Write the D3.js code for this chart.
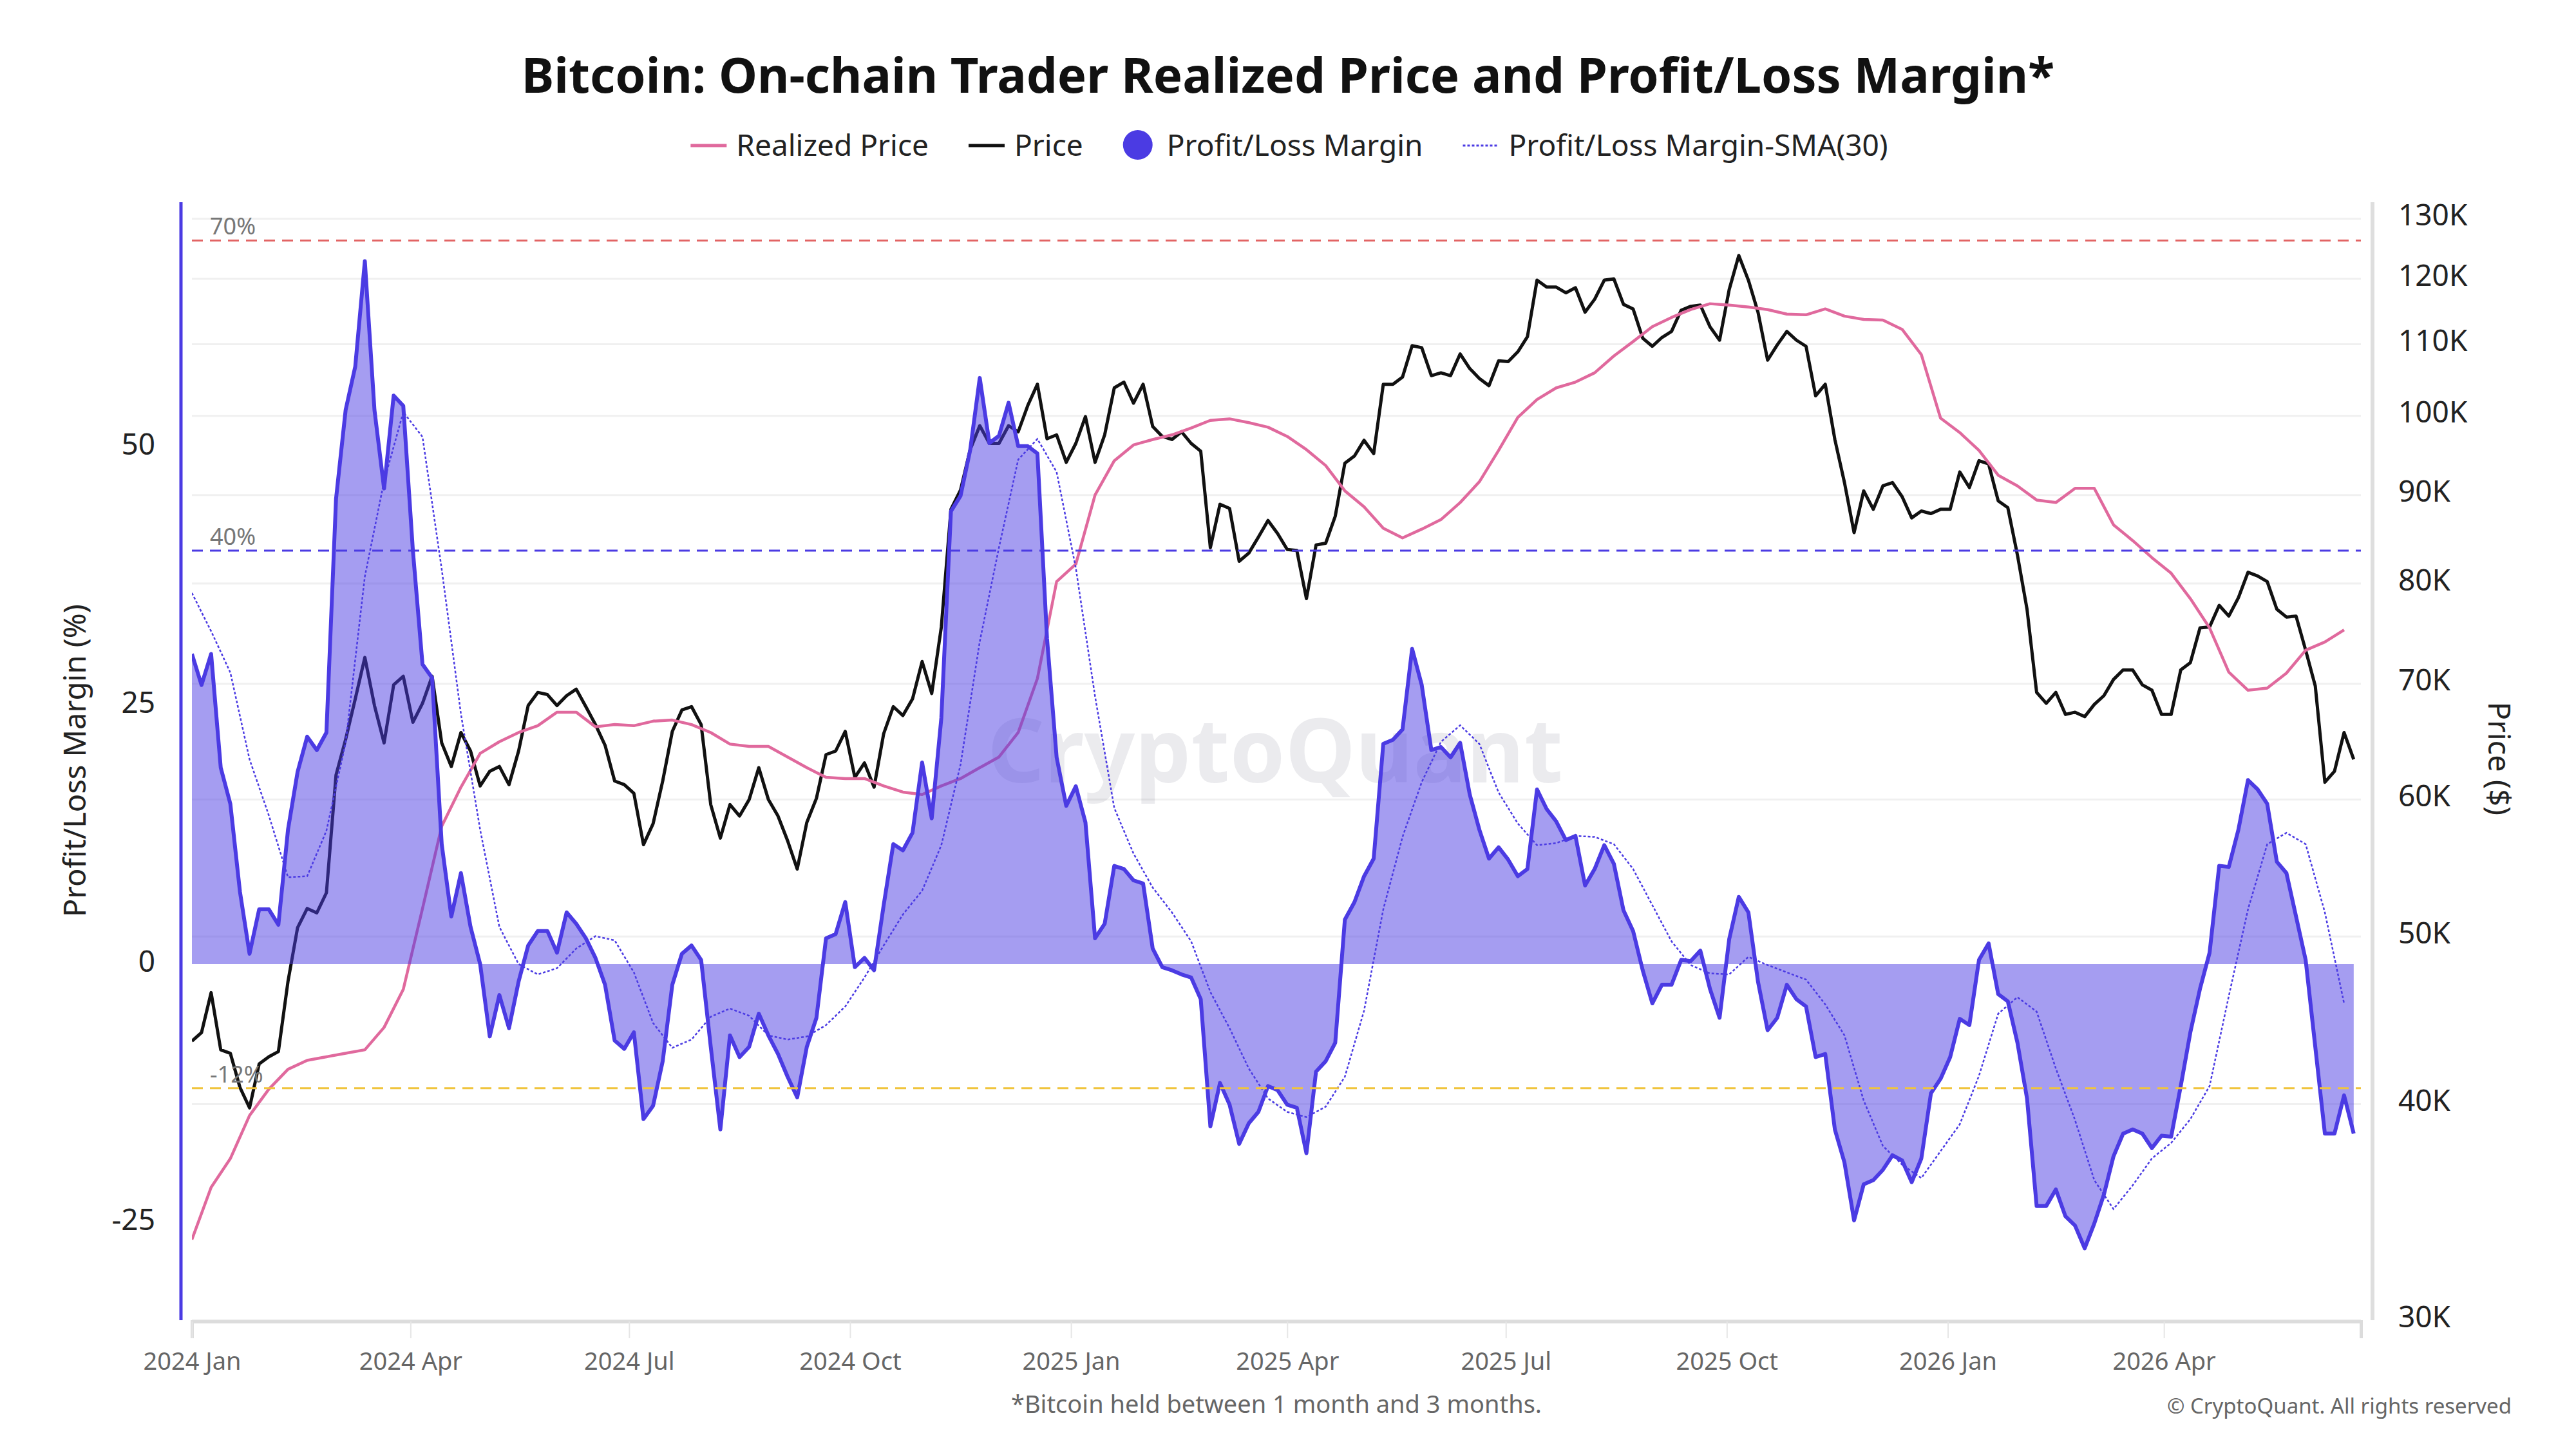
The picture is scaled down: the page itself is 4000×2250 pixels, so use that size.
<!DOCTYPE html>
<html>
<head>
<meta charset="utf-8">
<script src="https://cdn.jsdelivr.net/npm/d3@7"></script>
<style>
  html, body { margin: 0; padding: 0; background: #fff; }
  svg { display: block; }
</style>
</head>
<body>
<div id="chart"></div>
<script>
// ---- data ----
const startDate = new Date(Date.UTC(2024, 0, 1));
const endDate = new Date(Date.UTC(2026, 5, 22));
const fastStep = 4;   // days between Price / Profit-Loss Margin samples
const slowStep = 8;   // days between Realized Price / SMA(30) samples

// BTC price, thousand USD
const price = [
  43.5, 44.0, 46.4, 43.0, 42.8, 40.9, 39.8, 42.2, 42.6, 42.9,
  47.1, 50.6, 51.9, 51.6, 53.0, 62.0, 65.0, 68.6, 72.5, 68.0,
  64.7, 69.9, 70.7, 66.5, 68.2, 70.7, 64.7, 62.7, 65.6, 64.0,
  61.1, 62.3, 62.7, 61.2, 64.0, 68.0, 69.2, 69.0, 68.0, 68.9,
  69.5, 67.9, 66.3, 64.5, 61.5, 61.2, 60.5, 56.5, 58.1, 61.5,
  65.7, 67.6, 67.9, 66.3, 59.6, 57.0, 59.6, 58.7, 60.0, 62.6,
  60.0, 58.7, 56.8, 54.7, 58.2, 60.1, 63.7, 64.0, 65.7, 61.8,
  63.0, 61.0, 65.5, 67.9, 67.1, 68.6, 72.1, 69.1, 75.5, 88.3,
  90.6, 95.6, 98.7, 96.4, 96.4, 98.7, 97.9, 101.4, 104.3, 97.0,
  97.5, 94.0, 96.4, 99.9, 94.0, 97.5, 103.8, 104.6, 101.7, 104.3,
  98.6, 97.3, 96.9, 97.9, 96.4, 95.4, 83.9, 88.9, 88.4, 82.4,
  83.3, 85.1, 87.0, 85.5, 83.7, 83.6, 78.4, 84.2, 84.4, 87.5,
  93.9, 94.8, 96.8, 95.1, 104.3, 104.3, 105.3, 109.8, 109.5, 105.5,
  105.9, 105.5, 108.6, 106.5, 105.1, 104.1, 107.6, 107.5, 108.9, 111.1,
  119.8, 118.7, 118.7, 117.8, 118.6, 114.8, 116.8, 119.8, 120.0, 116.0,
  115.3, 110.9, 109.7, 111.0, 111.9, 115.1, 115.7, 115.9, 112.6, 110.6,
  118.3, 123.8, 119.8, 114.8, 107.7, 109.9, 111.9, 110.6, 109.7, 102.7,
  104.3, 96.9, 91.5, 85.6, 90.5, 88.3, 91.1, 91.5, 89.8, 87.3,
  88.1, 87.8, 88.3, 88.3, 92.8, 90.9, 94.2, 93.8, 89.3, 88.5,
  83.1, 77.3, 69.2, 68.2, 69.2, 67.2, 67.4, 67.0, 68.1, 68.9,
  70.4, 71.3, 71.3, 69.9, 69.4, 67.2, 67.2, 71.3, 72.0, 75.4,
  75.5, 77.7, 76.6, 78.5, 81.2, 80.8, 80.2, 77.3, 76.5, 76.6,
  73.2, 69.8, 61.4, 62.3, 65.6, 63.3
];

// Profit/Loss Margin, %
const margin = [
  30, 27, 30, 19, 15.5, 7, 1, 5.3, 5.3, 3.8,
  13, 18.6, 22, 20.7, 22.4, 45, 53.6, 57.8, 68, 53.6,
  46, 55, 54, 40, 29, 27.7, 11.6, 4.6, 8.8, 3.6,
  0, -7, -3, -6.2, -1.7, 1.8, 3.2, 3.2, 1.1, 5.0,
  3.9, 2.5, 0.6, -2.0, -7.4, -8.2, -6.6, -15, -13.7, -9.4,
  -2, 1.0, 1.8, 0.4, -8, -16, -6.9, -9, -8, -4.8,
  -6.9, -8.7, -10.9, -12.9, -8, -5.2, 2.5, 2.9, 6.0, -0.3,
  0.6, -0.6, 5.7, 11.6, 11, 12.7, 19.5, 14.1, 23.8, 43.8,
  45.3, 49.7, 56.7, 50.4, 51.1, 54.3, 50.1, 50.1, 49.4, 31.5,
  20, 15.3, 17.2, 13.7, 2.5, 3.9, 9.5, 9.2, 8.1, 7.8,
  1.5, -0.3, -0.6, -1, -1.3, -3.4, -15.7, -11.5, -13.6, -17.4,
  -15.4, -14.3, -11.8, -12.2, -13.6, -13.9, -18.3, -10.4, -9.4, -7.6,
  4.3, 6.0, 8.5, 10.2, 21.3, 21.7, 22.7, 30.5, 27, 20.7,
  21, 20, 21.4, 16.4, 13, 10.2, 11.3, 10.1, 8.5, 9.2,
  16.9, 15, 13.8, 12, 12.4, 7.6, 9.2, 11.5, 9.7, 5.2,
  3.2, -0.6, -3.8, -2.0, -2, 0.4, 0.3, 1.3, -2.4, -5.2,
  2.4, 6.5, 5, -1.7, -6.4, -5.2, -2, -3.4, -4.1, -9,
  -8.7, -16, -19.2, -24.8, -21.3, -20.9, -19.9, -18.5, -19, -21.1,
  -18.8, -12.5, -11.1, -9, -5.3, -5.9, 0.4, 2, -2.9, -3.6,
  -7.6, -13, -23.4, -23.4, -21.8, -24.4, -25.3, -27.5, -25.1, -22.3,
  -18.6, -16.4, -16, -16.4, -17.8, -16.6, -16.7, -11.8, -6.6, -2.4,
  1.1, 9.5, 9.4, 13, 17.8, 16.9, 15.5, 9.9, 8.8, 4.6,
  0.4, -8, -16.4, -16.4, -12.7, -16.4
];

// Trader realized price, thousand USD
const realized = [
  33.4, 35.8, 37.2, 39.4, 40.8, 41.9, 42.4, 42.6, 42.8, 43.0,
  44.3, 46.6, 51.9, 57.9, 61.0, 63.8, 64.8, 65.6, 66.2, 67.4,
  67.4, 66.1, 66.3, 66.2, 66.6, 66.7, 66.3, 65.6, 64.6, 64.4,
  64.4, 63.5, 62.6, 61.8, 61.7, 61.7, 61.1, 60.6, 60.4, 61.1,
  61.7, 62.6, 63.5, 65.6, 70.5, 80.2, 82.1, 90.0, 94.2, 96.2,
  96.9, 97.5, 98.4, 99.4, 99.6, 99.1, 98.5, 97.3, 95.6, 93.6,
  90.5, 88.6, 86.1, 85.0, 86.0, 87.1, 89.1, 91.6, 95.5, 99.8,
  102.2, 103.8, 104.6, 105.9, 108.3, 110.4, 112.6, 114.0, 115.2, 116.1,
  115.9, 115.6, 115.2, 114.5, 114.4, 115.3, 114.2, 113.7, 113.6, 112.2,
  108.5, 99.7, 97.8, 95.5, 92.4, 91.1, 89.4, 89.1, 90.8, 90.8,
  86.5, 84.7, 82.8, 81.1, 78.4, 75.4, 71.1, 69.4, 69.6, 71.0,
  73.2, 74.0, 75.2
];

// Profit/Loss Margin SMA(30), %
const marginSma = [
  35.9, 32.2, 28.2, 19.8, 14.4, 8.4, 8.5, 12.9, 21.4, 37.5,
  46.7, 53.4, 51.0, 38.2, 24.2, 13.0, 3.6, 0.0, -1.0, -0.4,
  1.5, 2.7, 2.3, -0.8, -5.7, -8.1, -7.3, -5.1, -4.3, -5.0,
  -6.9, -7.3, -7.0, -5.9, -4.1, -1.3, 1.8, 4.8, 7.1, 11.5,
  19.3, 31.2, 40.3, 48.8, 50.8, 47.6, 38.3, 25.9, 15.1, 10.7,
  7.4, 5.0, 2.2, -2.7, -6.2, -10.1, -13.0, -14.3, -14.8, -13.8,
  -10.9, -4.5, 5.3, 12.3, 17.6, 21.5, 23.1, 21.3, 16.6, 13.6,
  11.5, 11.7, 12.4, 12.3, 11.6, 9.2, 5.7, 2.2, -0.1, -0.9,
  -1.0, 0.7, -0.1, -0.8, -1.5, -3.9, -6.9, -13.2, -17.6, -19.4,
  -20.7, -18.1, -15.5, -10.8, -4.8, -3.2, -4.6, -10.1, -15.1, -20.9,
  -23.7, -21.4, -18.8, -17.3, -15.0, -11.8, -3.1, 5.3, 11.6, 12.7,
  11.6, 5.0, -3.8
];

const marginTicks = [50, 25, 0, -25];
const priceTicks = [30, 40, 50, 60, 70, 80, 90, 100, 110, 120, 130];
const refLevels = [70, 40, -12];

// ---- layout / styles ----
const width = 4000, height = 2250;
const plot = { left: 298, right: 3666, top: 314, bottom: 2050 };
const font = "'Noto Sans', 'Open Sans', sans-serif";
const blue = "#4b3be3";
const pink = "#e0699d";
const refColors = { "70": "#e26464", "40": "#4b3be3", "-12": "#f0c43c" };

const svg = d3.select("#chart").append("svg")
  .attr("width", width)
  .attr("height", height)
  .style("font-family", font);

svg.append("rect").attr("width", width).attr("height", height).attr("fill", "#fff");

const x = d3.scaleUtc().domain([startDate, endDate]).range([plot.left, plot.right]);
const yMargin = d3.scaleLinear().domain([-34.45, 73.7]).range([plot.bottom, plot.top]);
const yPrice = d3.scaleLog().domain([30, 132.9]).range([plot.bottom, plot.top]);

const toSeries = (vals, step) => vals.map((v, i) => ({ date: d3.utcDay.offset(startDate, i * step), v }));
const priceData = toSeries(price, fastStep);
const marginData = toSeries(margin, fastStep);
const realizedData = toSeries(realized, slowStep);
const smaData = toSeries(marginSma, slowStep);

// title
svg.append("text")
  .attr("x", 2000).attr("y", 144)
  .attr("text-anchor", "middle")
  .attr("font-size", 76).attr("font-weight", 700).attr("fill", "#111")
  .text("Bitcoin: On-chain Trader Realized Price and Profit/Loss Margin*");

// legend
const legendItems = [
  { label: "Realized Price", kind: "line", color: pink },
  { label: "Price", kind: "line", color: "#111" },
  { label: "Profit/Loss Margin", kind: "dot", color: blue },
  { label: "Profit/Loss Margin-SMA(30)", kind: "dash", color: blue }
];
const legend = svg.append("g");
let lx = 0;
legendItems.forEach(it => {
  const g = legend.append("g").attr("transform", `translate(${lx},0)`);
  let sw;
  if (it.kind === "dot") {
    g.append("circle").attr("cx", 23).attr("cy", 225).attr("r", 23).attr("fill", it.color);
    sw = 46 + 22;
  } else {
    g.append("line").attr("x1", 0).attr("x2", 56).attr("y1", 226).attr("y2", 226)
      .attr("stroke", it.color)
      .attr("stroke-width", it.kind === "dash" ? 3 : 5)
      .attr("stroke-dasharray", it.kind === "dash" ? "4 3" : null);
    sw = 56 + 15;
  }
  const t = g.append("text").attr("x", sw).attr("y", 242)
    .attr("font-size", 46).attr("fill", "#222").text(it.label);
  lx += sw + t.node().getComputedTextLength() + 62;
});
const legendW = lx - 62;
legend.attr("transform", `translate(${2002 - legendW / 2},0)`);

// gridlines on price ticks
svg.append("g").selectAll("line").data(priceTicks).join("line")
  .attr("x1", plot.left).attr("x2", plot.right)
  .attr("y1", d => yPrice(d)).attr("y2", d => yPrice(d))
  .attr("stroke", "#f0f0f0").attr("stroke-width", 3);

// watermark
svg.append("text")
  .attr("x", 1980).attr("y", 1215)
  .attr("text-anchor", "middle")
  .attr("font-size", 138).attr("font-weight", 700)
  .attr("fill", "#23233f").attr("fill-opacity", 0.09)
  .text("CryptoQuant");

// clip
svg.append("clipPath").attr("id", "clip").append("rect")
  .attr("x", plot.left).attr("y", plot.top)
  .attr("width", plot.right - plot.left).attr("height", plot.bottom - plot.top);
const body = svg.append("g").attr("clip-path", "url(#clip)");

const priceLine = d3.line().x(d => x(d.date)).y(d => yPrice(d.v));
const marginLine = d3.line().x(d => x(d.date)).y(d => yMargin(d.v));
const marginArea = d3.area().x(d => x(d.date)).y0(yMargin(0)).y1(d => yMargin(d.v));

body.append("path").datum(priceData).attr("d", priceLine)
  .attr("fill", "none").attr("stroke", "#111").attr("stroke-width", 5).attr("stroke-linejoin", "round");
body.append("path").datum(realizedData).attr("d", priceLine)
  .attr("fill", "none").attr("stroke", pink).attr("stroke-width", 4.5).attr("stroke-linejoin", "round");
body.append("path").datum(marginData).attr("d", marginArea)
  .attr("fill", blue).attr("fill-opacity", 0.5);
body.append("path").datum(marginData).attr("d", marginLine)
  .attr("fill", "none").attr("stroke", blue).attr("stroke-width", 6).attr("stroke-linejoin", "round");
body.append("path").datum(smaData).attr("d", marginLine)
  .attr("fill", "none").attr("stroke", blue).attr("stroke-width", 2.5).attr("stroke-dasharray", "4 3");

// reference levels
const refs = svg.append("g");
refs.selectAll("line").data(refLevels).join("line")
  .attr("x1", plot.left).attr("x2", plot.right)
  .attr("y1", d => yMargin(d)).attr("y2", d => yMargin(d))
  .attr("stroke", d => refColors[d]).attr("stroke-width", 3).attr("stroke-dasharray", "17 11");
refs.selectAll("text").data(refLevels).join("text")
  .attr("x", 326).attr("y", d => yMargin(d) - 9)
  .attr("font-size", 36).attr("fill", "#777")
  .text(d => d + "%");

// left axis
svg.append("line").attr("x1", 281).attr("x2", 281).attr("y1", plot.top).attr("y2", plot.bottom)
  .attr("stroke", blue).attr("stroke-width", 5);
const leftAxis = svg.append("g").attr("transform", "translate(241,0)")
  .call(d3.axisLeft(yMargin).tickValues(marginTicks).tickFormat(d => String(d)).tickSize(0).tickPadding(0));
leftAxis.select(".domain").remove();
leftAxis.selectAll("text").attr("font-size", 46).attr("font-family", font).attr("fill", "#222")
  .attr("dy", null).attr("y", 11);

svg.append("text")
  .attr("transform", "translate(133,1181) rotate(-90)")
  .attr("text-anchor", "middle")
  .attr("font-size", 47).attr("fill", "#222")
  .text("Profit/Loss Margin (%)");

// right axis
svg.append("line").attr("x1", 3684).attr("x2", 3684).attr("y1", plot.top).attr("y2", plot.bottom)
  .attr("stroke", "#dedede").attr("stroke-width", 6);
const rightAxis = svg.append("g").attr("transform", "translate(3724,0)")
  .call(d3.axisRight(yPrice).tickValues(priceTicks).tickFormat(d => d + "K").tickSize(0).tickPadding(0));
rightAxis.select(".domain").remove();
rightAxis.selectAll("text").attr("font-size", 46).attr("font-family", font).attr("fill", "#222")
  .attr("dy", null).attr("y", 10);

svg.append("text")
  .attr("transform", "translate(3864,1178) rotate(90)")
  .attr("text-anchor", "middle")
  .attr("font-size", 47).attr("fill", "#222")
  .text("Price ($)");

// bottom axis
const xAxis = svg.append("g").attr("transform", `translate(0,${plot.bottom + 2})`)
  .call(d3.axisBottom(x).ticks(d3.utcMonth.every(3)).tickFormat(d3.utcFormat("%Y %b")).tickSize(26).tickPadding(22));
xAxis.select(".domain").attr("stroke", "#dcdcdc").attr("stroke-width", 5);
xAxis.selectAll(".tick line").attr("stroke", "#e6e6e6").attr("stroke-width", 2);
xAxis.selectAll("text").attr("font-size", 38).attr("font-family", font).attr("fill", "#666");

// footnotes
svg.append("text")
  .attr("x", 1982).attr("y", 2194)
  .attr("text-anchor", "middle")
  .attr("font-size", 38).attr("fill", "#666")
  .text("*Bitcoin held between 1 month and 3 months.");
svg.append("text")
  .attr("x", 3900).attr("y", 2195)
  .attr("text-anchor", "end")
  .attr("font-size", 33).attr("fill", "#666")
  .text("© CryptoQuant. All rights reserved");
</script>
</body>
</html>
